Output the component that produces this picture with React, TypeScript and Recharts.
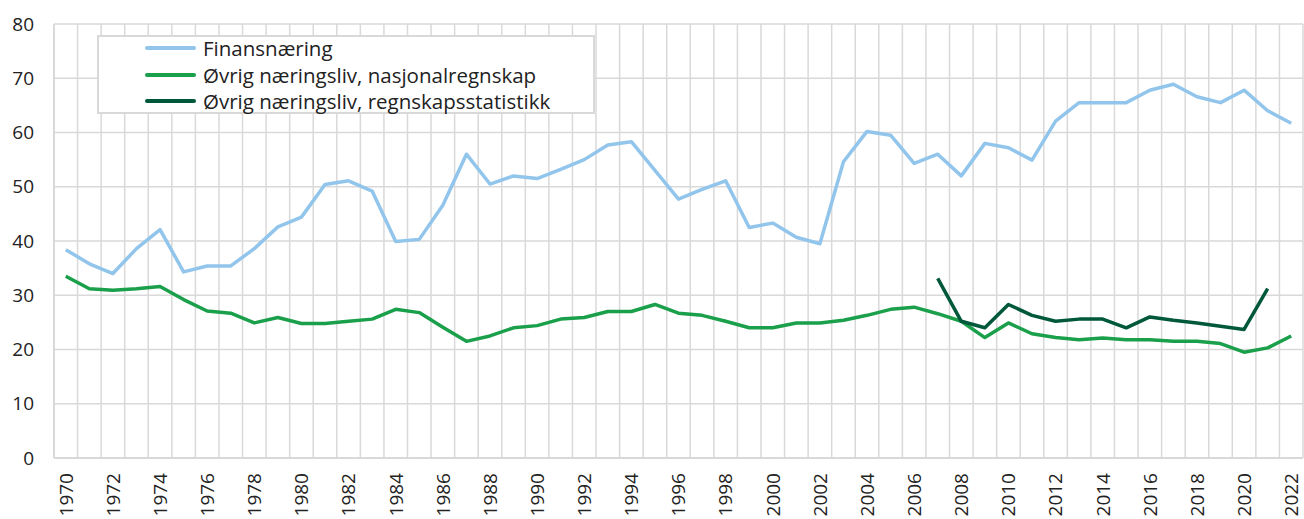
import React from 'react';
import { LineChart, Line, XAxis, YAxis, CartesianGrid, Legend } from 'recharts';

// years on the x axis
const years = [
  1970, 1971, 1972, 1973, 1974, 1975, 1976, 1977, 1978, 1979,
  1980, 1981, 1982, 1983, 1984, 1985, 1986, 1987, 1988, 1989,
  1990, 1991, 1992, 1993, 1994, 1995, 1996, 1997, 1998, 1999,
  2000, 2001, 2002, 2003, 2004, 2005, 2006, 2007, 2008, 2009,
  2010, 2011, 2012, 2013, 2014, 2015, 2016, 2017, 2018, 2019,
  2020, 2021, 2022,
];

const finansnaering = [
  38.4, 35.8, 34.0, 38.6, 42.1, 34.3, 35.4, 35.4, 38.6, 42.6,
  44.4, 50.4, 51.1, 49.2, 39.9, 40.3, 46.6, 56.0, 50.5, 52.0,
  51.5, 53.2, 55.0, 57.7, 58.3, 53.0, 47.7, 49.5, 51.1, 42.5,
  43.3, 40.7, 39.5, 54.6, 60.2, 59.5, 54.3, 56.0, 52.0, 58.0,
  57.2, 54.9, 62.1, 65.5, 65.5, 65.5, 67.8, 68.9, 66.6, 65.5,
  67.8, 64.0, 61.7,
];

const nasjonalregnskap = [
  33.5, 31.2, 30.9, 31.2, 31.6, 29.2, 27.1, 26.7, 24.9, 25.9,
  24.8, 24.8, 25.2, 25.6, 27.4, 26.8, 24.1, 21.5, 22.5, 24.0,
  24.4, 25.6, 25.9, 27.0, 27.0, 28.3, 26.7, 26.3, 25.2, 24.0,
  24.0, 24.9, 24.9, 25.4, 26.3, 27.4, 27.8, 26.6, 25.2, 22.2,
  24.9, 22.9, 22.2, 21.8, 22.1, 21.8, 21.8, 21.5, 21.5, 21.1,
  19.5, 20.3, 22.5,
];

// starts in 2007, ends in 2021
const regnskapsstatistikk = [
  null, null, null, null, null, null, null, null, null, null,
  null, null, null, null, null, null, null, null, null, null,
  null, null, null, null, null, null, null, null, null, null,
  null, null, null, null, null, null, null, 33.1, 25.2, 24.0,
  28.3, 26.3, 25.2, 25.6, 25.6, 24.0, 26.0, 25.4, 24.9, 24.3,
  23.7, 31.2, null,
];

const yTicks = [0, 10, 20, 30, 40, 50, 60, 70, 80];
const xTicks = [
  1970, 1972, 1974, 1976, 1978, 1980, 1982, 1984, 1986, 1988,
  1990, 1992, 1994, 1996, 1998, 2000, 2002, 2004, 2006, 2008,
  2010, 2012, 2014, 2016, 2018, 2020, 2022,
];

const series = [
  { key: 'finans', name: 'Finansnæring', color: '#92c5eb' },
  { key: 'nasjonal', name: 'Øvrig næringsliv, nasjonalregnskap', color: '#1a9f4a' },
  { key: 'regnskap', name: 'Øvrig næringsliv, regnskapsstatistikk', color: '#00583b' },
];

const rows = years.map((year, i) => ({
  year,
  finans: finansnaering[i],
  nasjonal: nasjonalregnskap[i],
  regnskap: regnskapsstatistikk[i],
}));

// grid lines sit between the years, like in Excel
const gridYears = [...years.map((y) => y - 0.5), years[years.length - 1] + 0.5];

const FONT = '"Open Sans", "Noto Sans", sans-serif';
const GRID = '#d9d9d9';

const YearTick = ({ x, y, payload }: any) => {
  const ty = y + 15;
  return (
    <text
      x={x}
      y={ty}
      transform={`rotate(-90, ${x}, ${ty})`}
      textAnchor="end"
      dy="0.36em"
      fill="#222"
      fontSize={19}
      fontFamily={FONT}
    >
      {payload.value}
    </text>
  );
};

const LegendBox = () => (
  <div
    style={{
      width: 494,
      height: 75,
      border: `2px solid ${GRID}`,
      background: '#fff',
      position: 'relative',
      fontFamily: FONT,
      fontSize: 20.5,
      color: '#222',
    }}
  >
    {series.map((s, i) => (
      <div
        key={s.key}
        style={{
          position: 'absolute',
          left: 46,
          top: 10 + i * 26.5 - 12,
          height: 26,
          display: 'flex',
          alignItems: 'center',
          whiteSpace: 'nowrap',
        }}
      >
        <span style={{ display: 'inline-block', width: 51, height: 4, borderRadius: 2, background: s.color, marginRight: 7 }} />
        <span>{s.name}</span>
      </div>
    ))}
  </div>
);

export default function App() {
  return (
    <div style={{ position: 'absolute', left: 0, top: 0, width: 1304, height: 519, background: '#fff' }}>
      <LineChart width={1304} height={519} data={rows} margin={{ top: 24, right: 1, bottom: 0, left: 0 }}>
        <CartesianGrid
          stroke={GRID}
          strokeWidth={1.5}
          verticalCoordinatesGenerator={({ xAxis, offset }: any) =>
            gridYears.map((v) =>
              xAxis && typeof xAxis.scale === 'function'
                ? xAxis.scale(v)
                : offset.left + ((v - gridYears[0]) / (gridYears[gridYears.length - 1] - gridYears[0])) * offset.width
            )
          }
        />
        <XAxis
          dataKey="year"
          type="number"
          domain={[gridYears[0], gridYears[gridYears.length - 1]]}
          ticks={xTicks}
          interval={0}
          tick={<YearTick />}
          tickLine={false}
          tickSize={0}
          tickMargin={0}
          height={61}
          axisLine={{ stroke: GRID, strokeWidth: 2 }}
        />
        <YAxis
          domain={[0, 80]}
          ticks={yTicks}
          width={54}
          tickLine={false}
          tickSize={0}
          tickMargin={20}
          tick={{ fill: '#222', fontSize: 19, fontFamily: FONT }}
          axisLine={{ stroke: GRID, strokeWidth: 2 }}
        />
        <Legend
          layout="vertical"
          align="center"
          verticalAlign="middle"
          content={<LegendBox />}
          wrapperStyle={{ position: 'absolute', left: 97, top: 35, width: 498, height: 79 }}
        />
        {series.map((s) => (
          <Line
            key={s.key}
            dataKey={s.key}
            name={s.name}
            type="linear"
            stroke={s.color}
            strokeWidth={3.5}
            dot={false}
            activeDot={false}
            strokeLinejoin="round"
            isAnimationActive={false}
          />
        ))}
      </LineChart>
    </div>
  );
}
